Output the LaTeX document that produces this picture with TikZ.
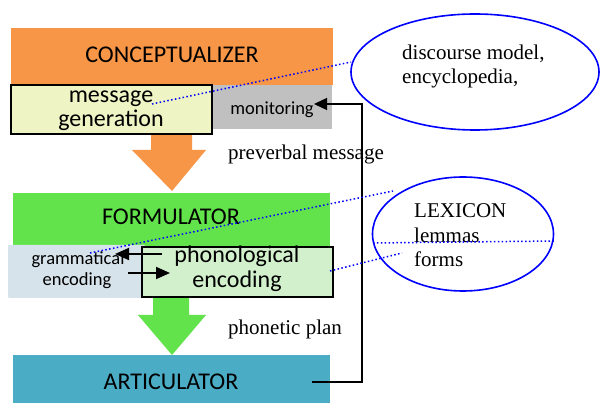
\documentclass[tikz,border=0pt]{standalone}
\usepackage{fontspec}
\setmainfont{Liberation Serif}
\newfontfamily\calib{Carlito}
\usetikzlibrary{arrows.meta,shapes.geometric}
\definecolor{corange}{HTML}{F79646}
\definecolor{cgreen}{HTML}{62E34B}
\definecolor{cartic}{HTML}{4BACC6}
\definecolor{cgrey}{HTML}{C0C0C0}
\definecolor{cmsg}{HTML}{EEF4C4}
\definecolor{cgram}{HTML}{D6E3EA}
\definecolor{cphon}{HTML}{D2F0CC}
\definecolor{cell}{HTML}{0000FF}
\begin{document}
\begin{tikzpicture}[x=1pt,y=-1pt,
  block/.style={draw=none, inner sep=0pt, outer sep=0pt, anchor=north west},
  framed/.style={draw=black, line width=1.7pt},
  big/.style={font=\calib\fontsize{24}{26}\selectfont, anchor=base, inner sep=0pt},
  mid/.style={font=\calib\fontsize{18.5}{21}\selectfont, anchor=base, inner sep=0pt},
  serif/.style={font=\fontsize{21}{24}\selectfont, anchor=base west, inner sep=0pt},
  dots/.style={draw=cell, line width=1.5pt, dash pattern=on 1.5pt off 2.4pt},
  oval/.style={ellipse, draw=cell, line width=1.6pt, inner sep=0pt},
  encarrow/.style={draw=black, line width=1.8pt, -{Triangle[length=14pt,width=12pt]}},
  fbline/.style={draw=black, line width=1.3pt, -{Triangle[length=13pt,width=12pt]}}
]
\useasboundingbox (0,0) rectangle (600,403);
\fill[white] (0,0) rectangle (600,403);

% Conceptualizer
\node[block, fill=corange, minimum width=322pt, minimum height=57pt] (concept) at (11,28) {};
\node[block, fill=cgrey, minimum width=120pt, minimum height=44pt] (mon) at (212,85) {};
\fill[corange] (151,133) -- (192,133) -- (192,150) -- (206,150) -- (172,191) -- (132,150) -- (151,150) -- cycle;
\node[block, fill=cmsg, framed, minimum width=201pt, minimum height=49pt] (msg) at (11,85) {};
\node[big] (tconcept) at (172,63) {CONCEPTUALIZER};
\node[big] (tmsg1) at (111,103) {message};
\node[big] (tmsg2) at (111,127) {generation};
\node[mid] (tmon) at (272,115) {monitoring};

% Formulator
\node[block, fill=cgreen, minimum width=317pt, minimum height=54pt] (form) at (13,193) {};
\fill[cgreen] (153,296) -- (189,296) -- (189,315) -- (206,315) -- (172,355) -- (138,315) -- (153,315) -- cycle;
\node[block, fill=cgram, minimum width=137pt, minimum height=53pt, rounded corners=1pt] (gram) at (8,245) {};
\node[block, fill=cphon, framed, minimum width=191pt, minimum height=50pt] (phon) at (142,247) {};
\node[big] (tform) at (171,225) {FORMULATOR};
\node[mid] (tgram1) at (78,265) {grammatical};
\node[mid] (tgram2) at (77,286) {encoding};
\node[big] (tphon1) at (237,263) {phonological};
\node[big] (tphon2) at (237,288) {encoding};

% Articulator
\node[block, fill=cartic, minimum width=317pt, minimum height=48pt] (artic) at (13,355) {};
\node[big] (tartic) at (171,389) {ARTICULATOR};

% encoding arrows
\coordinate (pg1) at (162,254);
\coordinate (gp1) at (115,254);
\coordinate (gp2) at (128,273);
\coordinate (pg2) at (170,273);
\draw[encarrow] (pg1) -- (gp1);
\draw[encarrow] (gp2) -- (pg2);

% feedback loop
\coordinate (fbstart) at (312,382);
\coordinate (fbcorner) at (362,382);
\coordinate (monin) at (314,104);
\draw[fbline] (fbstart) -- (fbcorner) |- (monin);

% ellipses
\node[oval, minimum width=248pt, minimum height=116pt] (disc) at (475,72) {};
\node[oval, minimum width=181pt, minimum height=114pt] (lex) at (463,234) {};
\node[serif] (tdisc1) at (402,60) {discourse model,};
\node[serif] (tdisc2) at (402,84) {encyclopedia,};
\node[serif] (tlex1) at (414,218) {LEXICON};
\node[serif] (tlex2) at (414,243) {lemmas};
\node[serif] (tlex3) at (414,267) {forms};

% labels
\node[serif] (tpre) at (228,160) {preverbal message};
\node[serif] (tphonetic) at (228,335) {phonetic plan};

% dotted links
\coordinate (d1a) at (152,104);
\coordinate (d1b) at (351,62);
\coordinate (d2a) at (90,253);
\coordinate (d2b) at (393,191);
\coordinate (d3a) at (373,243);
\coordinate (d3b) at (554,241);
\coordinate (d4a) at (330,271);
\coordinate (d4b) at (402,253);
\draw[dots] (d1a) -- (d1b);
\draw[dots] (d2a) -- (d2b);
\draw[dots] (d3a) -- (d3b);
\draw[dots] (d4a) -- (d4b);
\end{tikzpicture}
\end{document}
